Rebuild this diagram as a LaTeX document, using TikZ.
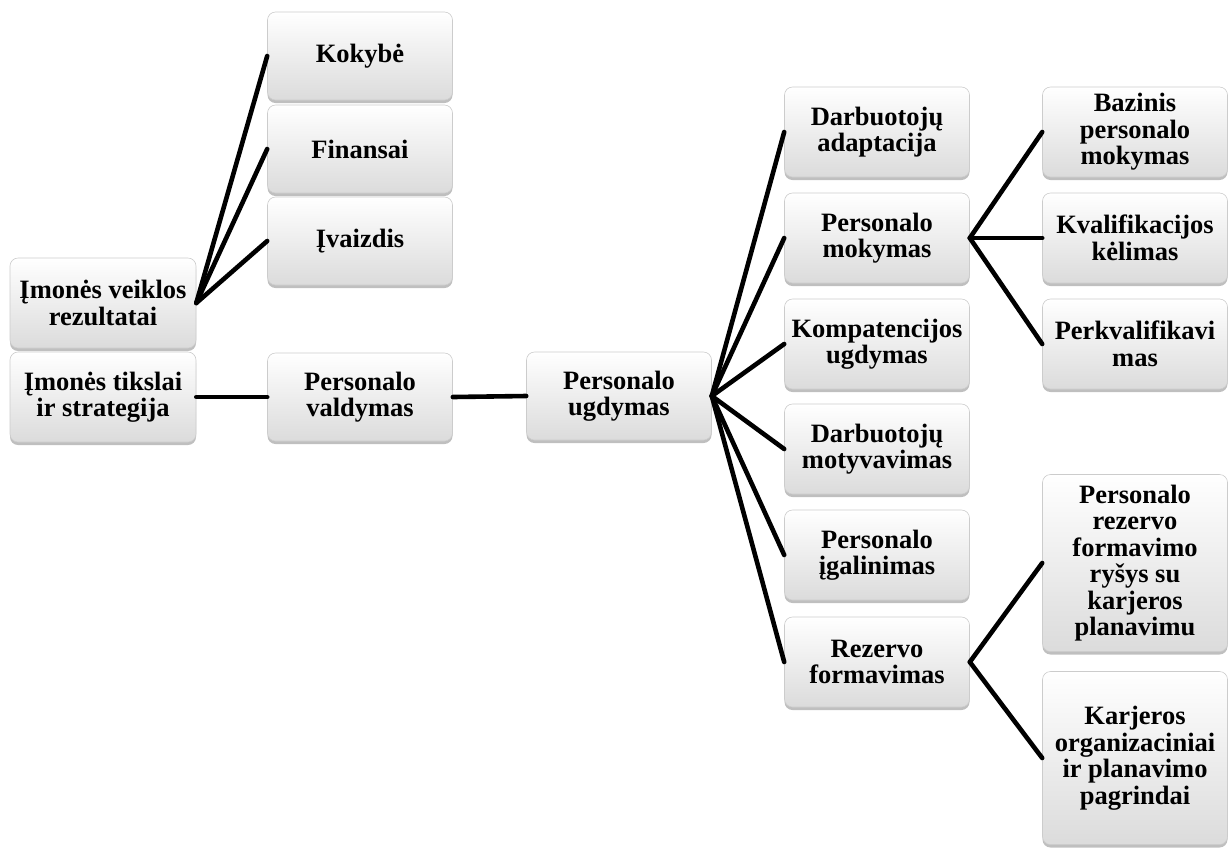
\documentclass[tikz,border=0pt]{standalone}
\usepackage{fontspec}
\newfontfamily\cardfont{Liberation Serif}
\usetikzlibrary{shadows}
\begin{document}
\begin{tikzpicture}[x=1pt,y=-1pt,
  card/.style={draw=gray!40, line width=0.6pt, rounded corners=8pt,
    top color=white, bottom color=gray!28,
    drop shadow={shadow xshift=0pt, shadow yshift=-3pt, opacity=0.5, fill=gray},
    minimum width=185pt, minimum height=88pt, align=center, inner sep=2pt,
    font=\cardfont\bfseries\fontsize{26.5}{26.5}\selectfont},
  link/.style={line width=4.6pt, line cap=round}]
\useasboundingbox (0,0) rectangle (1230,847);

% left side
\node[card] (kok) at (360,56) {Kokybė};
\node[card] (fin) at (360,149) {Finansai};
\node[card] (ivz) at (360,241) {Įvaizdis};
\node[card, minimum width=186pt, minimum height=90pt] (rez) at (103,303) {Įmonės veiklos\\rezultatai};
\node[card, minimum width=186pt, minimum height=90pt] (tiks) at (103,397) {Įmonės tikslai\\ir strategija};
\node[card] (val) at (360,397) {Personalo\\valdymas};
\node[card] (ugd) at (619,396) {Personalo\\ugdymas};

% second column
\node[card, minimum height=90pt] (ada) at (877,132) {Darbuotojų\\adaptacija};
\node[card, minimum height=90pt] (mok) at (877,238) {Personalo\\mokymas};
\node[card, minimum height=90pt] (komp) at (877,344) {Kompatencijos\\ugdymas};
\node[card, minimum height=90pt] (motyv) at (877,449) {Darbuotojų\\motyvavimas};
\node[card, minimum height=90pt] (igal) at (877,555) {Personalo\\įgalinimas};
\node[card, minimum height=90pt] (rezf) at (877,662) {Rezervo\\formavimas};

% third column
\node[card, minimum height=90pt] (baz) at (1135,132) {Bazinis\\personalo\\mokymas};
\node[card, minimum height=90pt] (kval) at (1135,238) {Kvalifikacijos\\kėlimas};
\node[card, minimum height=90pt] (perk) at (1135,344) {Perkvalifikavi\\mas};
\node[card, minimum height=177pt] (prez) at (1135,563) {Personalo\\rezervo\\formavimo\\ryšys su\\karjeros\\planavimu};
\node[card, minimum height=173pt] (karj) at (1135,758) {Karjeros\\organizaciniai\\ir planavimo\\pagrindai};

% connectors
\foreach \t in {kok,fin,ivz} \draw[link] (rez.east) -- (\t.west);
\draw[link] (tiks.east) -- (val.west);
\draw[link] (val.east) -- (ugd.west);
\foreach \t in {ada,mok,komp,motyv,igal,rezf} \draw[link] (ugd.east) -- (\t.west);
\foreach \t in {baz,kval,perk} \draw[link] (mok.east) -- (\t.west);
\foreach \t in {prez,karj} \draw[link] (rezf.east) -- (\t.west);
\end{tikzpicture}
\end{document}
